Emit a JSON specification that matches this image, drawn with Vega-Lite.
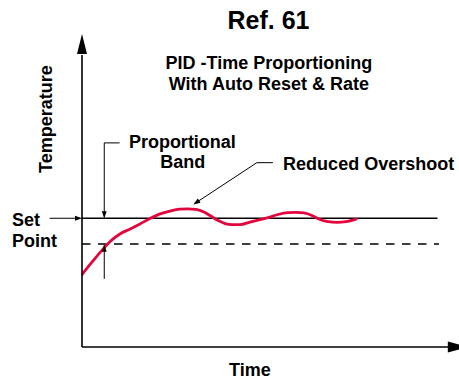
{
  "$schema": "https://vega.github.io/schema/vega-lite/v6.json",
  "width": 365,
  "height": 314,
  "autosize": {"type": "none"},
  "padding": {"left": 82, "top": 33, "right": 12, "bottom": 32},
  "background": "white",
  "config": {"view": {"stroke": null}},
  "datasets": {
    "curve": [
      {"t": 0.1, "temp": 23.2}, {"t": 3.0, "temp": 27.4}, {"t": 6.0, "temp": 31.5}, {"t": 8.2, "temp": 34.1},
      {"t": 10.4, "temp": 36.0}, {"t": 13.2, "temp": 37.6}, {"t": 15.9, "temp": 39.2}, {"t": 18.6, "temp": 40.9},
      {"t": 21.4, "temp": 42.4}, {"t": 24.1, "temp": 43.3}, {"t": 26.8, "temp": 43.9}, {"t": 29.0, "temp": 44.0},
      {"t": 31.2, "temp": 43.8}, {"t": 33.4, "temp": 43.0}, {"t": 35.3, "temp": 41.7}, {"t": 37.3, "temp": 40.3},
      {"t": 39.2, "temp": 39.3}, {"t": 41.1, "temp": 39.0}, {"t": 43.3, "temp": 39.0}, {"t": 46.0, "temp": 39.8},
      {"t": 48.8, "temp": 40.6}, {"t": 51.0, "temp": 41.2}, {"t": 53.7, "temp": 42.2}, {"t": 56.4, "temp": 42.8},
      {"t": 58.6, "temp": 42.9}, {"t": 60.8, "temp": 42.7}, {"t": 63.0, "temp": 41.9}, {"t": 65.2, "temp": 40.6},
      {"t": 67.4, "temp": 39.9}, {"t": 69.9, "temp": 39.7}, {"t": 72.3, "temp": 39.9}, {"t": 75.1, "temp": 40.7}
    ],
    "axes": [
      {"name": "temperature axis", "x": 0, "x2": 0, "y": 0, "y2": 93},
      {"name": "time axis", "x": 0, "x2": 101, "y": 0, "y2": 0}
    ],
    "setpoint": [
      {"name": "set point", "x": 0, "x2": 97.4, "y": 41, "y2": 41}
    ],
    "band": [
      {"name": "band edge", "x": 0, "x2": 97.8, "y": 32.8, "y2": 32.8}
    ],
    "leaders": [
      {"name": "band top", "x": 6.1, "x2": 6.1, "y": 65.0, "y2": 41.5},
      {"name": "band tick", "x": 6.1, "x2": 10.3, "y": 65.0, "y2": 65.0},
      {"name": "band bottom", "x": 6.1, "x2": 6.1, "y": 32.5, "y2": 21.7},
      {"name": "set point leader", "x": -8.9, "x2": -0.5, "y": 41, "y2": 41},
      {"name": "overshoot tick", "x": 47.9, "x2": 52.3, "y": 58.7, "y2": 58.7},
      {"name": "overshoot leader", "x": 47.9, "x2": 30.9, "y": 58.7, "y2": 45.7}
    ],
    "heads": [
      {"dir": "down", "x": 6.1, "y": 41.0},
      {"dir": "up", "x": 6.1, "y": 32.6},
      {"dir": "right", "x": 0, "y": 41.0},
      {"dir": "diag", "x": 30.5, "y": 45.4}
    ],
    "axisheads": [
      {"dir": "up", "x": 0, "y": 99.7},
      {"dir": "right", "x": 105.7, "y": 0}
    ],
    "labels": [
      {"kind": "title", "text": "Ref. 61", "x": 51.1, "y": 101.2},
      {"kind": "center", "text": "PID -Time Proportioning", "x": 51.2, "y": 88.4},
      {"kind": "center", "text": "With Auto Reset & Rate", "x": 51.2, "y": 81.8},
      {"kind": "center", "text": "Proportional", "x": 27.5, "y": 63.4},
      {"kind": "center", "text": "Band", "x": 27.6, "y": 57.1},
      {"kind": "center", "text": "Time", "x": 46.0, "y": -9.3},
      {"kind": "left", "text": "Reduced Overshoot", "x": 55.1, "y": 56.5},
      {"kind": "left", "text": "Set", "x": -19.2, "y": 38.4},
      {"kind": "left", "text": "Point", "x": -19.2, "y": 31.8},
      {"kind": "rotated", "text": "Temperature", "x": -8.2, "y": 72.6}
    ]
  },
  "encoding": {
    "x": {"type": "quantitative", "scale": {"domain": [0, 100], "nice": false, "zero": false}, "axis": null},
    "y": {"type": "quantitative", "scale": {"domain": [0, 100], "nice": false, "zero": false}, "axis": null}
  },
  "layer": [
    {
      "data": {"name": "setpoint"},
      "mark": {"type": "rule", "color": "black", "strokeWidth": 1.4},
      "encoding": {"x": {"field": "x", "type": "quantitative"}, "x2": {"field": "x2"}, "y": {"field": "y", "type": "quantitative"}, "y2": {"field": "y2"}}
    },
    {
      "data": {"name": "band"},
      "mark": {"type": "rule", "color": "black", "strokeWidth": 1.5, "strokeDash": [8.5, 7.5]},
      "encoding": {"x": {"field": "x", "type": "quantitative"}, "x2": {"field": "x2"}, "y": {"field": "y", "type": "quantitative"}, "y2": {"field": "y2"}}
    },
    {
      "data": {"name": "leaders"},
      "mark": {"type": "rule", "color": "black", "strokeWidth": 1},
      "encoding": {"x": {"field": "x", "type": "quantitative"}, "x2": {"field": "x2"}, "y": {"field": "y", "type": "quantitative"}, "y2": {"field": "y2"}}
    },
    {
      "data": {"name": "curve"},
      "mark": {"type": "line", "color": "#e3063d", "strokeWidth": 2.8, "interpolate": "monotone", "strokeCap": "round"},
      "encoding": {"x": {"field": "t", "type": "quantitative"}, "y": {"field": "temp", "type": "quantitative"}}
    },
    {
      "data": {"name": "axes"},
      "mark": {"type": "rule", "color": "black", "strokeWidth": 1.6},
      "encoding": {"x": {"field": "x", "type": "quantitative"}, "x2": {"field": "x2"}, "y": {"field": "y", "type": "quantitative"}, "y2": {"field": "y2"}}
    },
    {
      "data": {"name": "heads"},
      "transform": [{"filter": "datum.dir === 'down'"}],
      "mark": {"type": "point", "shape": "M0,0L0.7,-2L-0.7,-2Z", "size": 49, "filled": true, "color": "black", "opacity": 1, "strokeWidth": 0},
      "encoding": {"x": {"field": "x", "type": "quantitative"}, "y": {"field": "y", "type": "quantitative"}}
    },
    {
      "data": {"name": "heads"},
      "transform": [{"filter": "datum.dir === 'up'"}],
      "mark": {"type": "point", "shape": "M0,0L0.7,2L-0.7,2Z", "size": 49, "filled": true, "color": "black", "opacity": 1, "strokeWidth": 0},
      "encoding": {"x": {"field": "x", "type": "quantitative"}, "y": {"field": "y", "type": "quantitative"}}
    },
    {
      "data": {"name": "heads"},
      "transform": [{"filter": "datum.dir === 'right'"}],
      "mark": {"type": "point", "shape": "M0,0L-2,0.7L-2,-0.7Z", "size": 49, "filled": true, "color": "black", "opacity": 1, "strokeWidth": 0},
      "encoding": {"x": {"field": "x", "type": "quantitative"}, "y": {"field": "y", "type": "quantitative"}}
    },
    {
      "data": {"name": "heads"},
      "transform": [{"filter": "datum.dir === 'diag'"}],
      "mark": {"type": "point", "shape": "M0,0L2.056,-0.506L1.292,-1.678Z", "size": 49, "filled": true, "color": "black", "opacity": 1, "strokeWidth": 0},
      "encoding": {"x": {"field": "x", "type": "quantitative"}, "y": {"field": "y", "type": "quantitative"}}
    },
    {
      "data": {"name": "axisheads"},
      "transform": [{"filter": "datum.dir === 'up'"}],
      "mark": {"type": "point", "shape": "M0,0L0.5,2L-0.5,2Z", "size": 400, "filled": true, "color": "black", "opacity": 1, "strokeWidth": 0},
      "encoding": {"x": {"field": "x", "type": "quantitative"}, "y": {"field": "y", "type": "quantitative"}}
    },
    {
      "data": {"name": "axisheads"},
      "transform": [{"filter": "datum.dir === 'right'"}],
      "mark": {"type": "point", "shape": "M0,0L-2,0.55L-2,-0.55Z", "size": 400, "filled": true, "color": "black", "opacity": 1, "strokeWidth": 0},
      "encoding": {"x": {"field": "x", "type": "quantitative"}, "y": {"field": "y", "type": "quantitative"}}
    },
    {
      "data": {"name": "labels"},
      "transform": [{"filter": "datum.kind === 'title'"}],
      "mark": {"type": "text", "font": "Liberation Sans", "fontWeight": "bold", "fontSize": 25, "align": "center", "baseline": "alphabetic", "color": "black"},
      "encoding": {"x": {"field": "x", "type": "quantitative"}, "y": {"field": "y", "type": "quantitative"}, "text": {"field": "text"}}
    },
    {
      "data": {"name": "labels"},
      "transform": [{"filter": "datum.kind === 'center'"}],
      "mark": {"type": "text", "font": "Liberation Sans", "fontWeight": "bold", "fontSize": 18, "align": "center", "baseline": "alphabetic", "color": "black"},
      "encoding": {"x": {"field": "x", "type": "quantitative"}, "y": {"field": "y", "type": "quantitative"}, "text": {"field": "text"}}
    },
    {
      "data": {"name": "labels"},
      "transform": [{"filter": "datum.kind === 'left'"}],
      "mark": {"type": "text", "font": "Liberation Sans", "fontWeight": "bold", "fontSize": 18, "align": "left", "baseline": "alphabetic", "color": "black"},
      "encoding": {"x": {"field": "x", "type": "quantitative"}, "y": {"field": "y", "type": "quantitative"}, "text": {"field": "text"}}
    },
    {
      "data": {"name": "labels"},
      "transform": [{"filter": "datum.kind === 'rotated'"}],
      "mark": {"type": "text", "font": "Liberation Sans", "fontWeight": "bold", "fontSize": 18, "align": "center", "baseline": "alphabetic", "angle": 270, "color": "black"},
      "encoding": {"x": {"field": "x", "type": "quantitative"}, "y": {"field": "y", "type": "quantitative"}, "text": {"field": "text"}}
    }
  ]
}
